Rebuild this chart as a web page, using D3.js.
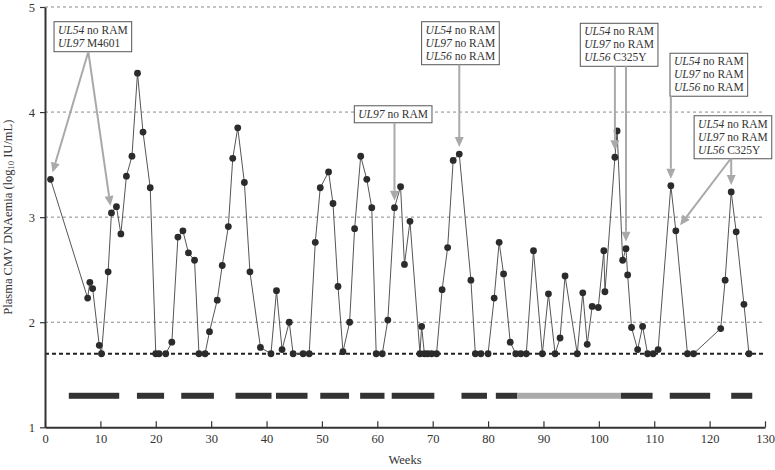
<!DOCTYPE html>
<html>
<head>
<meta charset="utf-8">
<script src="https://cdn.jsdelivr.net/npm/d3@7"></script>
<style>
  body { margin: 0; background: #fff; }
  svg { display: block; font-family: "Liberation Serif", "DejaVu Serif", serif; }
</style>
</head>
<body>
<div id="chart"></div>
<script>
// CMV DNAemia readings (week, log10 IU/mL)
var weeks = [1, 7.7, 8.1, 8.6, 9.8, 10.2, 11.4, 12, 12.9, 13.7, 14.7, 15.7, 16.7, 17.7, 19,
  20, 20.6, 21.8, 22.9, 24, 24.9, 25.9, 27, 27.8, 28.9, 29.7, 31.1, 32, 33.1, 33.9, 34.8,
  36, 37, 38.9, 40.8, 41.8, 42.8, 44.1, 44.8, 46.6, 47.7, 48.8, 49.7, 51.2, 52, 52.9, 53.8,
  55, 55.9, 57, 58.1, 59, 59.8, 60.9, 61.9, 63.1, 64.2, 64.9, 65.9, 67.7, 68, 68.5, 69.1,
  69.8, 70.7, 71.7, 72.7, 73.7, 74.8, 76.9, 77.7, 78.7, 80, 81.1, 82, 82.8, 84, 85, 85.9,
  86.9, 88.2, 89.8, 90.9, 92.1, 93, 93.9, 96.1, 97.1, 97.9, 98.8, 99.9, 100.9, 101.1, 102.9,
  103.3, 104.3, 104.9, 105.2, 105.9, 107, 107.9, 108.8, 109.8, 110.7, 113, 113.9, 116, 117.1,
  122, 122.8, 123.9, 124.8, 126.2, 127.1];
var values = [3.36, 2.23, 2.38, 2.32, 1.78, 1.7, 2.48, 3.04, 3.1, 2.84, 3.39, 3.58, 4.37, 3.81, 3.28,
  1.7, 1.7, 1.7, 1.81, 2.81, 2.87, 2.66, 2.59, 1.7, 1.7, 1.91, 2.21, 2.54, 2.91, 3.56, 3.85,
  3.33, 2.48, 1.76, 1.7, 2.3, 1.74, 2.0, 1.7, 1.7, 1.7, 2.76, 3.28, 3.43, 3.13, 2.34, 1.72,
  2.0, 2.89, 3.58, 3.36, 3.09, 1.7, 1.7, 2.02, 3.09, 3.29, 2.55, 2.96, 1.7, 1.96, 1.7, 1.7,
  1.7, 1.7, 2.31, 2.71, 3.54, 3.6, 2.4, 1.7, 1.7, 1.7, 2.23, 2.76, 2.46, 1.81, 1.7, 1.7,
  1.7, 2.68, 1.7, 2.27, 1.7, 1.85, 2.44, 1.7, 2.28, 1.79, 2.15, 2.14, 2.68, 2.29, 3.57,
  3.82, 2.59, 2.7, 2.45, 1.95, 1.74, 1.96, 1.7, 1.7, 1.74, 3.3, 2.87, 1.7, 1.7,
  1.94, 2.4, 3.24, 2.86, 2.17, 1.7];

var lloq = 1.7;          // lower limit of quantification
var barLevel = 1.3;      // where treatment periods are drawn

// treatment periods in weeks
var darkPeriods = [[4.3, 13.4], [16.6, 21.5], [24.6, 30.5], [34.4, 40.9], [41.7, 47.4],
  [49.7, 54.9], [56.9, 61.3], [62.6, 70.3], [75.2, 79.8], [81.4, 85.3], [104, 109.7],
  [112.8, 120.1], [123.9, 127.7]];
var lightPeriods = [[85.3, 104]];

var xTicks = [0, 10, 20, 30, 40, 50, 60, 70, 80, 90, 100, 110, 120, 130];
var yTicks = [1, 2, 3, 4, 5];
var gridTicks = [2, 3, 4, 5];

// resistance annotations: box top-left (week, value), arrows to readings at given weeks
var notes = [
  {lines: [["UL54", " no RAM"], ["UL97", " M4601"]], x: 1.63, y: 4.86,
   arrows: [{to: 1, from: 7.82}, {to: 12, from: 7.82}]},
  {lines: [["UL97", " no RAM"]], x: 55.85, y: 4.06, arrows: [{to: 63.1}]},
  {lines: [["UL54", " no RAM"], ["UL97", " no RAM"], ["UL56", " no RAM"]], x: 68.0, y: 4.86,
   arrows: [{to: 74.8}]},
  {lines: [["UL54", " no RAM"], ["UL97", " no RAM"], ["UL56", " C325Y"]], x: 96.65, y: 4.845,
   arrows: [{to: 102.9}, {to: 104.9}]},
  {lines: [["UL54", " no RAM"], ["UL97", " no RAM"], ["UL56", " no RAM"]], x: 112.85, y: 4.56,
   arrows: [{to: 113}]},
  {lines: [["UL54", " no RAM"], ["UL97", " no RAM"], ["UL56", " C325Y"]], x: 117.2, y: 3.965,
   arrows: [{to: 123.9}, {to: 113.9, from: 123.8}]}
];

var margin = {top: 7, right: 10, bottom: 42.7, left: 45},
    width = 775 - margin.left - margin.right,
    height = 470 - margin.top - margin.bottom;

var svg = d3.select("#chart").append("svg")
    .attr("width", 775)
    .attr("height", 470)
  .append("g")
    .attr("transform", "translate(" + margin.left + "," + margin.top + ")");

var x = d3.scaleLinear().domain([0, 130]).range([0, width]);
var y = d3.scaleLinear().domain([1, 5]).range([height, 0]);

// grid lines
svg.selectAll("line.grid")
    .data(gridTicks)
    .enter().append("line")
    .attr("class", "grid")
    .attr("x1", 0).attr("x2", width)
    .attr("y1", function(d) { return y(d); })
    .attr("y2", function(d) { return y(d); })
    .attr("stroke", "#8a8a8a")
    .attr("stroke-width", 1)
    .attr("stroke-dasharray", "3,3");

// LLOQ line
svg.append("line")
    .attr("x1", 0).attr("x2", width)
    .attr("y1", y(lloq)).attr("y2", y(lloq))
    .attr("stroke", "#222")
    .attr("stroke-width", 2)
    .attr("stroke-dasharray", "4,3");

// treatment bars
function drawPeriods(list, color) {
  svg.selectAll(null)
      .data(list)
      .enter().append("rect")
      .attr("x", function(d) { return x(d[0]); })
      .attr("width", function(d) { return x(d[1]) - x(d[0]); })
      .attr("y", y(barLevel) - 3)
      .attr("height", 6)
      .attr("fill", color);
}
drawPeriods(darkPeriods, "#333");
drawPeriods(lightPeriods, "#aaa");

// axes
var fmt = d3.format("d");
var xAxis = svg.append("g")
    .attr("transform", "translate(0," + height + ")")
    .call(d3.axisBottom(x).tickValues(xTicks).tickFormat(fmt)
      .tickSizeInner(-6).tickSizeOuter(0).tickPadding(7));
var yAxis = svg.append("g")
    .call(d3.axisLeft(y).tickValues(yTicks).tickFormat(fmt)
      .tickSizeInner(5).tickSizeOuter(0).tickPadding(5));

[xAxis, yAxis].forEach(function(g) {
  g.attr("font-family", null);
  g.select(".domain").attr("stroke", "#333").attr("stroke-width", 2);
  g.selectAll(".tick line").attr("stroke", "#333").attr("stroke-width", 1.2);
  g.selectAll(".tick text").attr("fill", "#333").style("font-size", "12.5px");
});

// data line and points
var pts = weeks.map(function(w, i) { return {w: w, v: values[i]}; });

svg.append("path")
    .datum(pts)
    .attr("fill", "none")
    .attr("stroke", "#555")
    .attr("stroke-width", 1)
    .attr("d", d3.line().x(function(d) { return x(d.w); }).y(function(d) { return y(d.v); }));

svg.selectAll("circle.pt")
    .data(pts)
    .enter().append("circle")
    .attr("class", "pt")
    .attr("cx", function(d) { return x(d.w); })
    .attr("cy", function(d) { return y(d.v); })
    .attr("r", 3.4)
    .attr("fill", "#2b2b2b");

// annotations
var lineH = 13;
var arrowColor = "#a9a9a9";

notes.forEach(function(n) {
  var bx = x(n.x), by = y(n.y);
  var g = svg.append("g");
  var rect = g.append("rect")
      .attr("x", bx).attr("y", by)
      .attr("height", lineH * n.lines.length + 4)
      .attr("fill", "#fff")
      .attr("stroke", "#555")
      .attr("stroke-width", 1);
  var maxW = 0;
  n.lines.forEach(function(l, i) {
    var t = g.append("text")
        .attr("x", bx + 4)
        .attr("y", by + 12 + i * lineH)
        .attr("fill", "#333")
        .style("font-size", "11.5px");
    t.append("tspan").style("font-style", "italic").text(l[0]);
    t.append("tspan").text(l[1]);
    maxW = Math.max(maxW, t.node().getComputedTextLength());
  });
  rect.attr("width", maxW + 8);
  var bottom = by + lineH * n.lines.length + 4;

  n.arrows.forEach(function(a) {
    var i = weeks.indexOf(a.to);
    var px = x(weeks[i]), py = y(values[i]);
    var sx = a.from != null ? x(a.from) : px, sy = bottom;
    var dx = px - sx, dy = py - sy, len = Math.sqrt(dx * dx + dy * dy);
    var ux = dx / len, uy = dy / len;
    var tx = px - ux * 7, ty = py - uy * 7;       // tip
    var hx = tx - ux * 10, hy = ty - uy * 10;     // arrowhead base
    svg.append("line")
        .attr("x1", sx).attr("y1", sy)
        .attr("x2", hx).attr("y2", hy)
        .attr("stroke", arrowColor)
        .attr("stroke-width", 2);
    svg.append("path")
        .attr("d", "M" + tx + "," + ty +
          "L" + (hx - uy * 4.5) + "," + (hy + ux * 4.5) +
          "L" + (hx + uy * 4.5) + "," + (hy - ux * 4.5) + "Z")
        .attr("fill", arrowColor);
  });
});

// axis titles
var yl = svg.append("text")
    .attr("transform", "translate(" + (12 - margin.left) + "," + (height / 2) + ") rotate(-90)")
    .attr("text-anchor", "middle")
    .attr("fill", "#333")
    .style("font-size", "12.5px");
yl.append("tspan").text("Plasma CMV DNAemia (log");
yl.append("tspan").attr("baseline-shift", "-25%").style("font-size", "8.5px").text("10");
yl.append("tspan").text(" IU/mL)");

svg.append("text")
    .attr("x", width / 2)
    .attr("y", height + 37)
    .attr("text-anchor", "middle")
    .attr("fill", "#333")
    .style("font-size", "12.5px")
    .text("Weeks");
</script>
</body>
</html>
